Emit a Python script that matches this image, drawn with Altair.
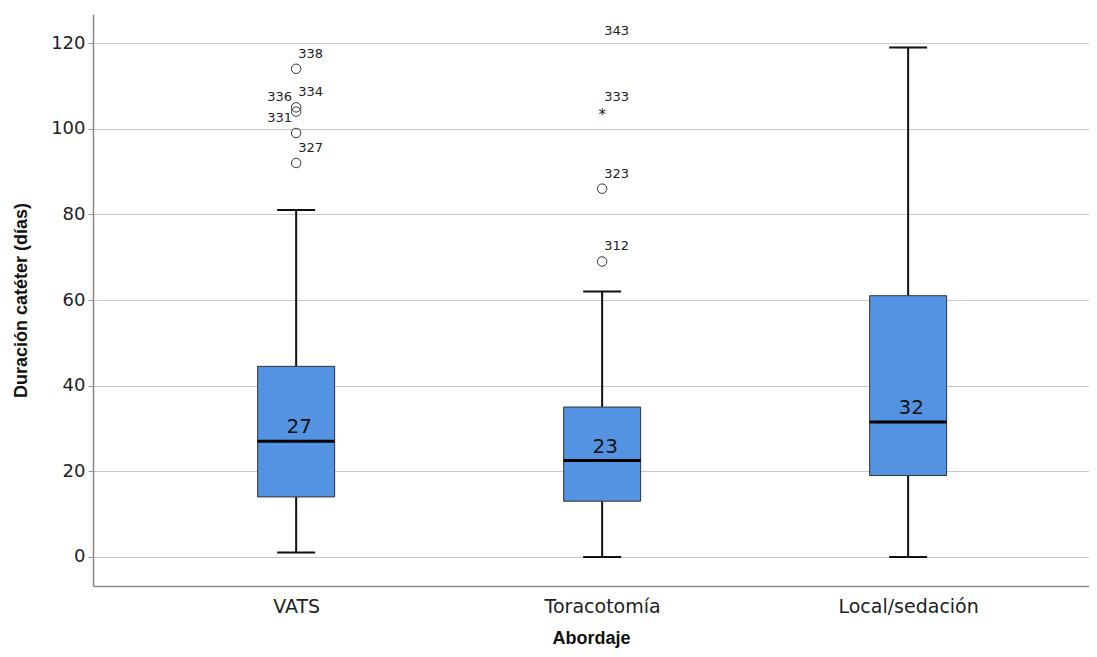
import altair as alt
import pandas as pd

groups = ["VATS", "Toracotomía", "Local/sedación"]
q1 = [14, 13, 19]
q3 = [44.5, 35, 61]
median = [27, 22.5, 31.5]
whisk_lo = [1, 0, 0]
whisk_hi = [81, 62, 119]
median_labels = ["27", "23", "32"]

out_group = ["VATS"] * 5 + ["Toracotomía"] * 4
out_value = [92, 99, 104, 105, 114, 69, 86, 104, 119.3]
out_id = ["327", "331", "336", "334", "338", "312", "323", "333", "343"]
out_kind = ["circle"] * 5 + ["circle", "circle", "star", "none"]
out_side = ["right", "left", "left", "right", "right", "right", "right", "right", "right"]

box = pd.DataFrame({"g": groups, "q1": q1, "q3": q3, "med": median,
                    "lo": whisk_lo, "hi": whisk_hi, "lab": median_labels})
outl = pd.DataFrame({"g": out_group, "v": out_value, "id": out_id,
                     "kind": out_kind, "side": out_side})

xscale = alt.Scale(type="point", domain=groups, padding=0.6275, align=0.529)
yscale = alt.Scale(domain=[-6.8, 126.8], nice=False, zero=False)

x = alt.X("g:N", scale=xscale, sort=groups,
          axis=alt.Axis(title="Abordaje", labelAngle=0, ticks=False, grid=False,
                        labelPadding=11, titlePadding=13, labelFontSize=19,
                        labelFont="DejaVu Sans", labelColor="#222",
                        titleFont="Liberation Sans", titleFontSize=18,
                        titleFontWeight="bold", titleColor="#111",
                        domainColor="#888", domainWidth=1.5))
yaxis = alt.Axis(title="Duración catéter (días)", values=[0, 20, 40, 60, 80, 100, 120],
                 grid=True, gridColor="#c8c8c8", gridWidth=1, tickSize=5,
                 tickColor="#999", labelPadding=3, labelFontSize=18,
                 labelFont="DejaVu Sans", labelColor="#222", titlePadding=20,
                 titleFont="Liberation Sans", titleFontSize=18, titleFontWeight="bold",
                 titleColor="#111", domainColor="#888", domainWidth=1.5)

base = alt.Chart(box)

whisk_low = base.mark_rule(color="#111", strokeWidth=2).encode(
    x=x, y=alt.Y("lo:Q", scale=yscale, axis=yaxis), y2="q1:Q")
whisk_high = base.mark_rule(color="#111", strokeWidth=2).encode(
    x=x, y=alt.Y("q3:Q", scale=yscale), y2="hi:Q")
cap_lo = base.mark_tick(color="#111", size=38, thickness=2, opacity=1).encode(
    x=x, y=alt.Y("lo:Q", scale=yscale))
cap_hi = base.mark_tick(color="#111", size=38, thickness=2, opacity=1).encode(
    x=x, y=alt.Y("hi:Q", scale=yscale))
boxes = base.mark_bar(size=77, color="#5393e2", stroke="#333", strokeWidth=1).encode(
    x=x, y=alt.Y("q1:Q", scale=yscale), y2="q3:Q")
med = base.mark_tick(color="#000", size=77, thickness=3, opacity=1).encode(
    x=x, y=alt.Y("med:Q", scale=yscale))
med_txt = base.mark_text(fontSize=20, font="DejaVu Sans", color="#111",
                         baseline="middle", dx=3, dy=-14).encode(
    x=x, y=alt.Y("med:Q", scale=yscale), text="lab:N")

ob = alt.Chart(outl)
circles = ob.transform_filter(alt.datum.kind == "circle").mark_point(
    shape="circle", size=90, filled=False, color="#333", strokeWidth=1, opacity=1).encode(
    x=x, y=alt.Y("v:Q", scale=yscale))
stars = ob.transform_filter(alt.datum.kind == "star").mark_text(
    text="*", fontSize=15, font="DejaVu Sans", color="#222", baseline="middle", dy=3).encode(
    x=x, y=alt.Y("v:Q", scale=yscale))
lab_r = ob.transform_filter(alt.datum.side == "right").mark_text(
    fontSize=13, font="DejaVu Sans", color="#222", align="left", baseline="middle",
    dx=2, dy=-15).encode(x=x, y=alt.Y("v:Q", scale=yscale), text="id:N")
lab_l = ob.transform_filter(alt.datum.side == "left").mark_text(
    fontSize=13, font="DejaVu Sans", color="#222", align="right", baseline="middle",
    dx=-4, dy=-15).encode(x=x, y=alt.Y("v:Q", scale=yscale), text="id:N")

chart = alt.layer(whisk_low, whisk_high, cap_lo, cap_hi, boxes, med, med_txt,
                  circles, stars, lab_r, lab_l).properties(
    width=996, height=572, autosize="none", background="white",
    padding={"left": 85, "top": 6, "right": 0, "bottom": 63},
).configure_view(strokeOpacity=0, strokeWidth=0)

chart.save("out.html", embed_options={"renderer": "svg", "actions": False})
